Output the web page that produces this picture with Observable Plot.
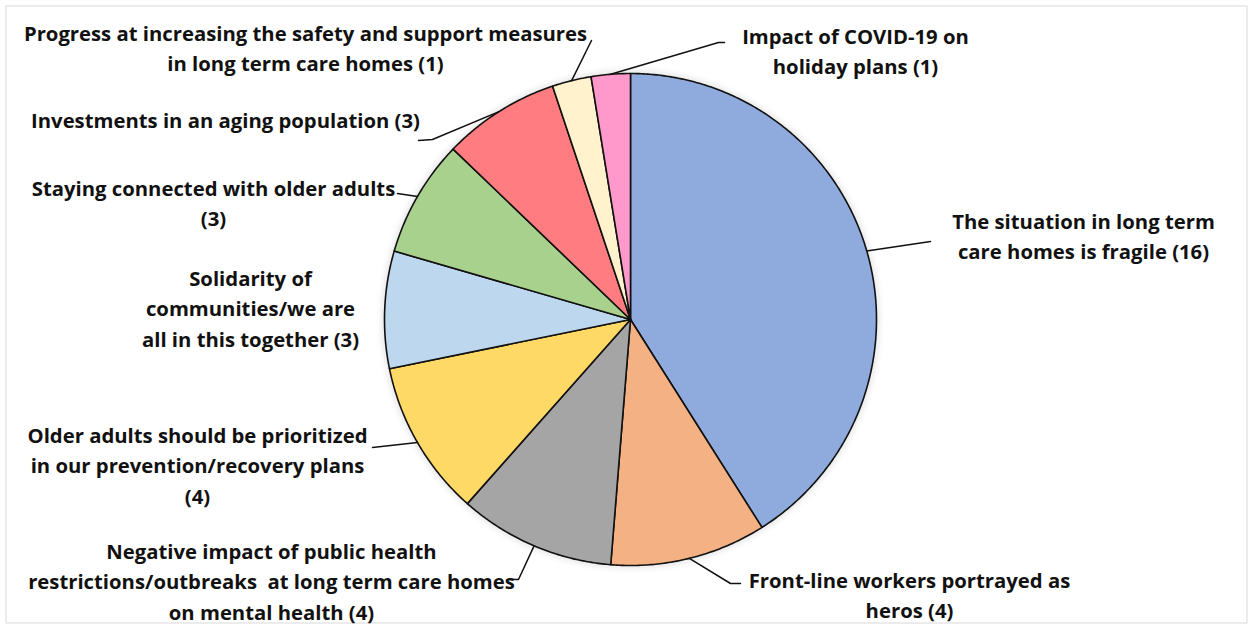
<!DOCTYPE html>
<html>
<head>
<meta charset="utf-8">
<script src="https://cdn.jsdelivr.net/npm/d3@7"></script>
<script src="https://cdn.jsdelivr.net/npm/@observablehq/plot@0.6"></script>
<style>
  html, body { margin: 0; padding: 0; background: #fff; }
  #chart svg { display: block; }
</style>
</head>
<body>
<div id="chart"></div>
<script>
// ---- Data ----
const categories = [
  "The situation in long term\ncare homes is fragile (16)",
  "Front-line workers portrayed as\nheros (4)",
  "Negative impact of public health\nrestrictions/outbreaks  at long term care homes\non mental health (4)",
  "Older adults should be prioritized\nin our prevention/recovery plans\n(4)",
  "Solidarity of\ncommunities/we are\nall in this together (3)",
  "Staying connected with older adults\n(3)",
  "Investments in an aging population (3)",
  "Progress at increasing the safety and support measures\nin long term care homes (1)",
  "Impact of COVID-19 on\nholiday plans (1)"
];
const counts = [16, 4, 4, 4, 3, 3, 3, 1, 1];
const sliceColors = ["#8FAADC", "#F4B183", "#A5A5A5", "#FFD966", "#BDD7EE", "#A9D18E", "#FF7C80", "#FFF2CC", "#FF99CC"];

// ---- Layout (pixels) ----
const W = 1251, H = 628;
const CX = 630, CY = 319, R = 246;
// label block centres
const labelX = [1083, 909, 271, 197, 250, 213, 225, 305, 855];
const labelY = [233.5, 592.5, 579, 463, 306, 201, 118, 46, 49];
// leader line waypoints after the slice-edge start (null = no leader)
const leaderPts = [
  [[930, 241]],
  [[730, 583], [740, 583]],
  [[518, 579], [509, 579]],
  [[372, 447]],
  null,
  [[397, 193]],
  [[432, 139], [418, 140]],
  [[591, 40]],
  [[718, 42], [724, 42]]
];

// ---- Derived geometry from the data ----
const total = d3.sum(counts);
const slices = [];
let cum = 0;
counts.forEach((v, i) => {
  const a0 = cum / total * 2 * Math.PI;
  cum += v;
  const a1 = cum / total * 2 * Math.PI;
  slices.push({i, name: categories[i], a0, a1, mid: (a0 + a1) / 2});
});
const pt = (a, r) => [CX + r * Math.sin(a), CY - r * Math.cos(a)];

const slicePts = [];
for (const s of slices) {
  slicePts.push({name: s.name, x: CX, y: CY});
  const n = Math.max(2, Math.ceil((s.a1 - s.a0) / (Math.PI / 360)));
  for (let k = 0; k <= n; ++k) {
    const a = s.a0 + (s.a1 - s.a0) * k / n;
    const [x, y] = pt(a, R);
    slicePts.push({name: s.name, x, y});
  }
  slicePts.push({name: s.name, x: CX, y: CY});
}

const leaderData = [];
slices.forEach((s, i) => {
  if (!leaderPts[i]) return;
  const [x0, y0] = pt(s.mid, R);
  leaderData.push({k: i, x: x0, y: y0});
  for (const [x, y] of leaderPts[i]) leaderData.push({k: i, x, y});
});

const labels = categories.map((c, i) => ({text: c, x: labelX[i], y: labelY[i]}));

const chart = Plot.plot({
  width: W,
  height: H,
  margin: 0,
  x: {domain: [0, W], range: [0, W], axis: null},
  y: {domain: [0, H], range: [0, H], axis: null},
  color: {domain: categories, range: sliceColors},
  style: {background: "#fff"},
  marks: [
    Plot.frame({stroke: "#d9d9d9", insetLeft: 5.5, insetTop: 5.5, insetRight: 4.5, insetBottom: 5.5}),
    Plot.dot([{x: CX, y: CY}], {x: "x", y: "y", r: R, fill: "#fff", stroke: "#ccc", strokeWidth: 3,
      imageFilter: "blur(3px)"}),
    Plot.line(slicePts, {x: "x", y: "y", z: "name", fill: "name", stroke: "#111", strokeWidth: 1.6, curve: "linear", strokeLinejoin: "round"}),
    Plot.line(leaderData, {x: "x", y: "y", z: "k", stroke: "#111", strokeWidth: 1.5}),
    Plot.text(labels, {x: "x", y: "y", text: "text", textAnchor: "middle", lineAnchor: "middle",
      lineHeight: 1.5, fontSize: 20.3, fontWeight: "bold", fontFamily: "Open Sans", fill: "#111"})
  ]
});
document.getElementById("chart").appendChild(chart);
</script>
</body>
</html>
